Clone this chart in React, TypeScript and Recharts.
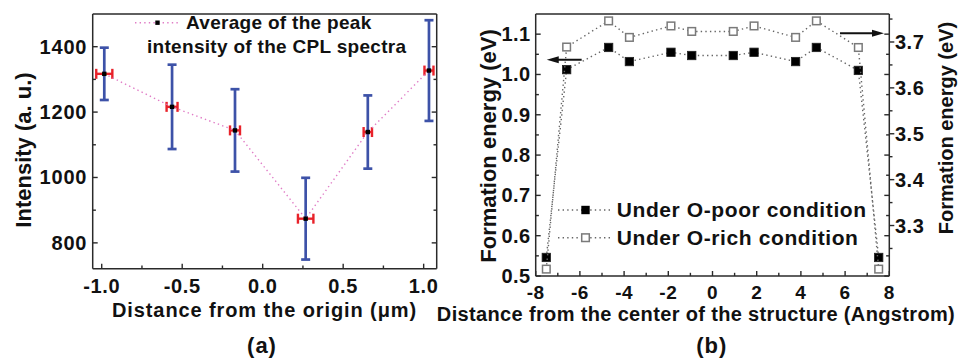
import React from 'react';
import { ComposedChart, Scatter, XAxis, YAxis, ErrorBar, Legend, ReferenceLine } from 'recharts';

const FONT = '"Liberation Sans", Arial, Helvetica, sans-serif';
const AXIS = '#2a2a2a';
const BLUE = '#3d52a8';
const RED = '#e8222a';
const PINK = '#e07cc6';
const GREYLINE = '#666';

// ---------- Panel (a) ----------
const distA = [-0.984, -0.563, -0.172, 0.267, 0.653, 1.033];
const intensityA = [1317, 1216, 1144, 874, 1139, 1327];
const intensityErrA = [80, 129, 126, 125, 112, 154];
const distErrA = [0.05, 0.034, 0.031, 0.048, 0.026, 0.028];
const xMajorA = [-1, -0.5, 0, 0.5, 1];
const xMinorA = [-0.75, -0.25, 0.25, 0.75];
const yMajorA = [800, 1000, 1200, 1400];
const yMinorA = [900, 1100, 1300];
const xDomainA: [number, number] = [-1.056, 1.081];
const yDomainA: [number, number] = [721, 1500];

// ---------- Panel (b) ----------
const distB = [-7.52, -6.6, -4.7, -3.76, -1.88, -0.94, 0.94, 1.88, 3.76, 4.7, 6.6, 7.52];
const poorB = [0.546, 1.012, 1.067, 1.032, 1.055, 1.047, 1.047, 1.055, 1.032, 1.067, 1.01, 0.546];
const richB = [3.205, 3.689, 3.746, 3.71, 3.735, 3.723, 3.723, 3.735, 3.71, 3.746, 3.688, 3.205];
const xMajorB = [-8, -6, -4, -2, 0, 2, 4, 6, 8];
const xMinorB = [-7, -5, -3, -1, 1, 3, 5, 7];
const yMajorBL = [0.5, 0.6, 0.7, 0.8, 0.9, 1.0, 1.1];
const yMinorBL = [0.55, 0.65, 0.75, 0.85, 0.95, 1.05];
const yMajorBR = [3.3, 3.4, 3.5, 3.6, 3.7];
const yMinorBR = [3.25, 3.35, 3.45, 3.55, 3.65, 3.75];
const xDomainB: [number, number] = [-8, 8];
const yDomainBL: [number, number] = [0.5, 1.15];
const yDomainBR: [number, number] = [3.19, 3.761];
// arrows (data space)
const arrowLeft = { fromX: -5.92, toX: -7.5, y: 1.0365 };
const arrowRight = { fromX: 5.77, toX: 7.76, y: 3.719 };

const dataA = distA.map((x, i) => ({ x, y: intensityA[i], ey: intensityErrA[i], ex: distErrA[i] }));
const poorData = distB.map((x, i) => ({ x, y: poorB[i] }));
const richData = distB.map((x, i) => ({ x, y: richB[i] }));

// map left-axis values of panel b onto right-axis scale (same pixel span) for mirrored inward ticks
const mapLR = (v: number) =>
  yDomainBR[0] + ((v - yDomainBL[0]) * (yDomainBR[1] - yDomainBR[0])) / (yDomainBL[1] - yDomainBL[0]);
const mirMajorBR = yMajorBL.map(mapLR);
const mirMinorBR = yMinorBL.map(mapLR);

const near = (a: number, list: number[]) => list.some((v) => Math.abs(v - a) < 1e-7);

type Side = 'bottom' | 'top' | 'left' | 'right';
interface TickOpts {
  side: Side;
  majors: number[];
  inMajors?: number[];
  inMinors?: number[];
  outward?: boolean;
  fmt?: (v: number) => string;
  gap?: number;
  fontSize?: number;
  ls?: number;
}

const makeTick = (o: TickOpts) => (p: any) => {
  const v = Number(p.payload?.value);
  const x = p.x as number;
  const y = p.y as number;
  const isInMajor = o.inMajors ? near(v, o.inMajors) : false;
  const isInMinor = o.inMinors ? near(v, o.inMinors) : false;
  const isMirror = isInMajor || isInMinor;
  const major = isMirror ? isInMajor : near(v, o.majors);
  const len = major ? 5 : 3.2;
  const s = o.outward && !isMirror ? -1 : 1;
  let dx = 0;
  let dy = 0;
  if (o.side === 'bottom') dy = -len * s;
  if (o.side === 'top') dy = len * s;
  if (o.side === 'left') dx = len * s;
  if (o.side === 'right') dx = -len * s;
  let label: React.ReactNode = null;
  if (o.fmt && major && !isMirror) {
    const common = {
      fontFamily: FONT,
      fontWeight: 700,
      fontSize: o.fontSize ?? 20,
      letterSpacing: o.ls ?? 0,
      fill: '#111',
      dominantBaseline: 'central' as const,
    };
    if (o.side === 'bottom')
      label = (
        <text x={x} y={y + (o.gap ?? 17)} textAnchor="middle" {...common}>
          {o.fmt(v)}
        </text>
      );
    if (o.side === 'left')
      label = (
        <text x={x - (o.gap ?? 5)} y={y} textAnchor="end" {...common}>
          {o.fmt(v)}
        </text>
      );
    if (o.side === 'right')
      label = (
        <text x={x + (o.gap ?? 5)} y={y} textAnchor="start" {...common}>
          {o.fmt(v)}
        </text>
      );
  }
  return (
    <g>
      <line x1={x} y1={y} x2={x + dx} y2={y + dy} stroke={AXIS} strokeWidth={1.4} />
      {label}
    </g>
  );
};

const SmallSquare = (p: any) => <rect x={p.cx - 2.2} y={p.cy - 2.2} width={4.4} height={4.4} fill="#000" />;
const FilledSquare = (p: any) => (
  <rect x={p.cx - 4.2} y={p.cy - 4.2} width={8.4} height={8.4} fill="#000" stroke="#222" strokeWidth={0.8} />
);
const OpenSquare = (p: any) => (
  <rect x={p.cx - 3.8} y={p.cy - 3.8} width={7.6} height={7.6} fill="#fff" stroke="#7a7a7a" strokeWidth={1.5} />
);

const Arrow = (p: any) => {
  const { x1, y1, x2, y2 } = p;
  const dir = x2 > x1 ? 1 : -1;
  const head = 12;
  return (
    <g>
      <line x1={x1} y1={y1} x2={x2 - dir * head * 0.8} y2={y2} stroke="#111" strokeWidth={2} />
      <polygon points={`${x2},${y2} ${x2 - dir * head},${y2 - 3.6} ${x2 - dir * head},${y2 + 3.6}`} fill="#111" />
    </g>
  );
};

const LegendA = () => (
  <div style={{ position: 'relative', width: 300, height: 50, fontFamily: FONT, fontWeight: 700, fontSize: 19, letterSpacing: 0.3, color: '#111' }}>
    <svg style={{ position: 'absolute', left: 0, top: 0 }} width={46} height={26}>
      <line x1={0} y1={12.7} x2={45} y2={12.7} stroke={PINK} strokeWidth={1.4} strokeDasharray="1.4 3.2" />
      <rect x={20.3} y={10.5} width={4.4} height={4.4} fill="#000" />
    </svg>
    <span style={{ position: 'absolute', left: 51, top: 0.7, lineHeight: '24px', whiteSpace: 'nowrap' }}>Average of the peak</span>
    <span style={{ position: 'absolute', left: 12, top: 24.7, lineHeight: '24px', whiteSpace: 'nowrap' }}>intensity of the CPL spectra</span>
  </div>
);

const LegendB = () => (
  <div style={{ position: 'relative', width: 320, height: 56, fontFamily: FONT, fontWeight: 700, fontSize: 21, letterSpacing: 0.6, color: '#111' }}>
    <svg style={{ position: 'absolute', left: 0, top: 0 }} width={58} height={56}>
      <line x1={0} y1={14} x2={55} y2={14} stroke={GREYLINE} strokeWidth={1.4} strokeDasharray="1.4 3.2" />
      <rect x={27.5 - 4.2} y={14 - 4.2} width={8.4} height={8.4} fill="#000" />
      <line x1={0} y1={41.7} x2={55} y2={41.7} stroke={GREYLINE} strokeWidth={1.4} strokeDasharray="1.4 3.2" />
      <rect x={27.5 - 3.8} y={41.7 - 3.8} width={7.6} height={7.6} fill="#fff" stroke="#7a7a7a" strokeWidth={1.5} />
    </svg>
    <span style={{ position: 'absolute', left: 58.7, top: 14 - 13, lineHeight: '26px', whiteSpace: 'nowrap' }}>Under O-poor condition</span>
    <span style={{ position: 'absolute', left: 58.7, top: 41.7 - 13, lineHeight: '26px', whiteSpace: 'nowrap' }}>Under O-rich condition</span>
  </div>
);

const textStyle: React.CSSProperties = {
  position: 'absolute',
  fontFamily: FONT,
  fontWeight: 700,
  color: '#111',
  whiteSpace: 'nowrap',
  lineHeight: 1,
};

const Title = ({ cx, cy, size, ls = 0, rotate = false, children }: any) => (
  <div
    style={{
      ...textStyle,
      left: cx,
      top: cy,
      fontSize: size,
      letterSpacing: ls,
      transform: `translate(-50%, -50%)${rotate ? ' rotate(-90deg)' : ''}`,
    }}
  >
    {children}
  </div>
);

const axisCommon = {
  tickLine: false,
  tickSize: 0,
  tickMargin: 0,
  interval: 0 as const,
  allowDataOverflow: true,
  type: 'number' as const,
  axisLine: { stroke: AXIS, strokeWidth: 1.5 },
};

export default function App() {
  return (
    <div style={{ position: 'absolute', left: 0, top: 0, width: 959, height: 358, background: '#fff', overflow: 'hidden' }}>
      {/* Panel (a) */}
      <div style={{ position: 'absolute', left: 0, top: 0 }}>
        <ComposedChart width={480} height={358} margin={{ top: 13, right: 42.3, bottom: 0, left: 0 }}>
          <XAxis
            {...axisCommon}
            xAxisId="x"
            dataKey="x"
            orientation="bottom"
            height={89.3}
            domain={xDomainA}
            ticks={[...xMajorA, ...xMinorA]}
            tick={makeTick({ side: 'bottom', majors: xMajorA, fmt: (v) => v.toFixed(1), gap: 17, fontSize: 20, ls: 0.6 })}
          />
          <XAxis
            {...axisCommon}
            xAxisId="xt"
            orientation="top"
            height={1}
            domain={xDomainA}
            ticks={[...xMajorA, ...xMinorA]}
            tick={makeTick({ side: 'top', majors: xMajorA })}
          />
          <YAxis
            {...axisCommon}
            yAxisId="y"
            dataKey="y"
            orientation="left"
            width={92.7}
            domain={yDomainA}
            ticks={[...yMajorA, ...yMinorA]}
            tick={makeTick({ side: 'left', majors: yMajorA, fmt: (v) => String(v), gap: 5.4, fontSize: 20, ls: 0.8 })}
          />
          <YAxis
            {...axisCommon}
            yAxisId="yr"
            orientation="right"
            width={1}
            domain={yDomainA}
            ticks={[...yMajorA, ...yMinorA]}
            tick={makeTick({ side: 'right', majors: yMajorA })}
          />
          <Scatter
            data={dataA}
            dataKey="y"
            xAxisId="x"
            yAxisId="y"
            shape={SmallSquare}
            line={{ stroke: PINK, strokeWidth: 1.4, strokeDasharray: '1.4 3.2' }}
            isAnimationActive={false}
          >
            <ErrorBar dataKey="ey" direction="y" width={4.5} stroke={BLUE} strokeWidth={2.7} />
            <ErrorBar dataKey="ex" direction="x" width={5} stroke={RED} strokeWidth={2.4} />
          </Scatter>
          <Legend
            layout="horizontal"
            verticalAlign="middle"
            align="center"
            content={LegendA}
            wrapperStyle={{ position: 'absolute', left: 135, top: 10, width: 300, height: 50 }}
          />
        </ComposedChart>
      </div>

      {/* Panel (b) */}
      <div style={{ position: 'absolute', left: 480, top: 0 }}>
        <ComposedChart width={479} height={358} margin={{ top: 13, right: 0, bottom: 0, left: 0 }}>
          <XAxis
            {...axisCommon}
            xAxisId="x"
            dataKey="x"
            orientation="bottom"
            height={82}
            domain={xDomainB}
            ticks={[...xMajorB, ...xMinorB]}
            tick={makeTick({ side: 'bottom', majors: xMajorB, fmt: (v) => String(v), gap: 16, fontSize: 19, ls: 0.5 })}
          />
          <XAxis
            {...axisCommon}
            xAxisId="xt"
            orientation="top"
            height={1}
            domain={xDomainB}
            ticks={[...xMajorB, ...xMinorB]}
            tick={makeTick({ side: 'top', majors: xMajorB })}
          />
          <YAxis
            {...axisCommon}
            yAxisId="l"
            dataKey="y"
            orientation="left"
            width={55.7}
            domain={yDomainBL}
            ticks={[...yMajorBL, ...yMinorBL]}
            tick={makeTick({ side: 'left', majors: yMajorBL, fmt: (v) => v.toFixed(1), gap: 5, fontSize: 20, ls: 0.5 })}
          />
          <YAxis
            {...axisCommon}
            yAxisId="r"
            dataKey="y"
            orientation="right"
            width={69.7}
            domain={yDomainBR}
            ticks={[...yMajorBR, ...yMinorBR, ...mirMajorBR, ...mirMinorBR]}
            tick={makeTick({
              side: 'right',
              majors: yMajorBR,
              inMajors: mirMajorBR,
              inMinors: mirMinorBR,
              outward: true,
              fmt: (v) => v.toFixed(1),
              gap: 5.7,
              fontSize: 20,
              ls: 0.5,
            })}
          />
          <Scatter
            data={poorData}
            dataKey="y"
            xAxisId="x"
            yAxisId="l"
            shape={FilledSquare}
            line={{ stroke: GREYLINE, strokeWidth: 1.4, strokeDasharray: '1.4 3.2' }}
            isAnimationActive={false}
          />
          <Scatter
            data={richData}
            dataKey="y"
            xAxisId="x"
            yAxisId="r"
            shape={OpenSquare}
            line={{ stroke: GREYLINE, strokeWidth: 1.4, strokeDasharray: '1.4 3.2' }}
            isAnimationActive={false}
          />
          <ReferenceLine
            xAxisId="x"
            yAxisId="l"
            ifOverflow="visible"
            segment={[
              { x: arrowLeft.fromX, y: arrowLeft.y },
              { x: arrowLeft.toX, y: arrowLeft.y },
            ]}
            shape={Arrow}
          />
          <ReferenceLine
            xAxisId="x"
            yAxisId="r"
            ifOverflow="visible"
            segment={[
              { x: arrowRight.fromX, y: arrowRight.y },
              { x: arrowRight.toX, y: arrowRight.y },
            ]}
            shape={Arrow}
          />
          <Legend
            layout="horizontal"
            verticalAlign="middle"
            align="center"
            content={LegendB}
            wrapperStyle={{ position: 'absolute', left: 78, top: 196, width: 320, height: 56 }}
          />
        </ComposedChart>
      </div>

      {/* Titles */}
      <Title cx={24} cy={149.5} size={22} rotate>
        Intensity (a. u.)
      </Title>
      <Title cx={264.5} cy={310} size={20} ls={0.9}>
        Distance from the origin (μm)
      </Title>
      <Title cx={262} cy={345.5} size={22} ls={1}>
        (a)
      </Title>
      <Title cx={489} cy={145.8} size={22} rotate>
        Formation energy (eV)
      </Title>
      <Title cx={945.5} cy={127.5} size={20} rotate>
        Formation energy (eV)
      </Title>
      <Title cx={696} cy={313.5} size={20} ls={0.35}>
        Distance from the center of the structure (Angstrom)
      </Title>
      <Title cx={711.7} cy={345.5} size={22} ls={1}>
        (b)
      </Title>
    </div>
  );
}
